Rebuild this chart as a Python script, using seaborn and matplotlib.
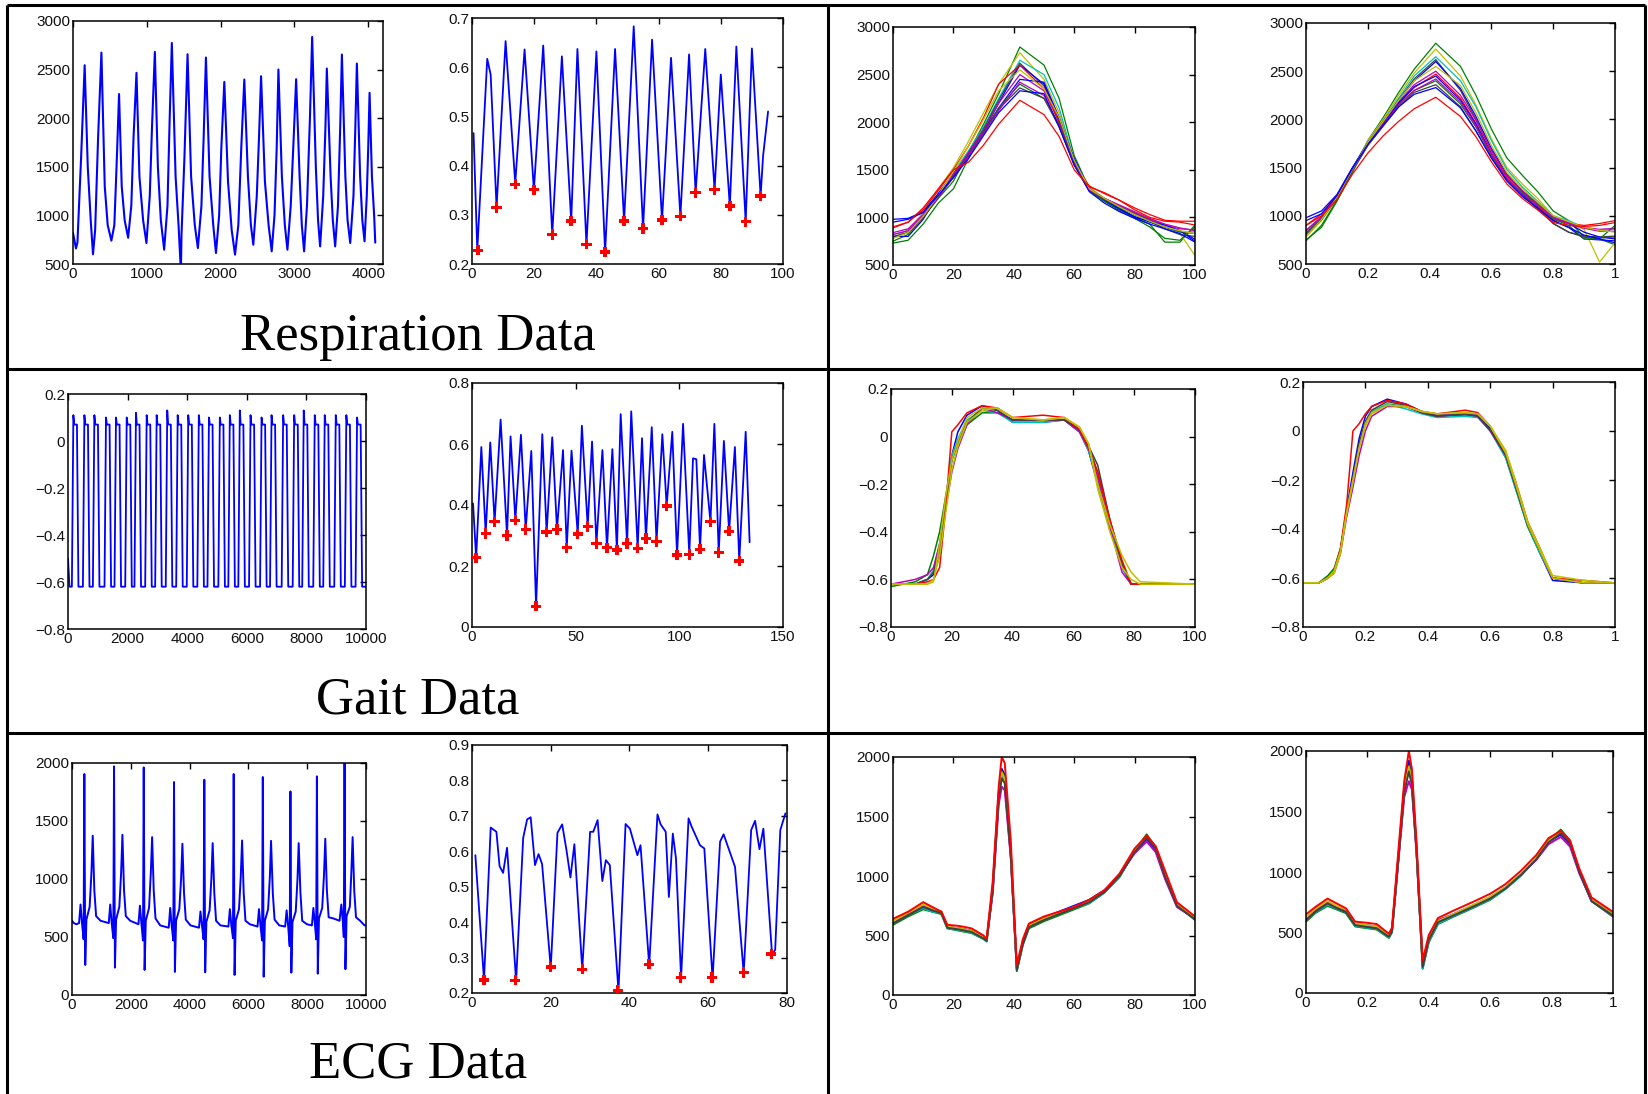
import matplotlib
matplotlib.use("Agg")
import matplotlib.pyplot as plt
from matplotlib.lines import Line2D
from matplotlib.ticker import FuncFormatter, MultipleLocator
import seaborn as sns
import pandas as pd

# ---------------- DATA ----------------
# MATLAB default colours
C_B, C_G, C_R = (0, 0, 1), (0, 0.5, 0), (1, 0, 0)
C_C, C_M, C_Y, C_K = (0, 0.75, 0.75), (0.75, 0, 0.75), (0.75, 0.75, 0), (0.25, 0.25, 0.25)

# Respiration raw signal (vertices)
resp_raw_x = [0, 40, 60, 110, 158, 200, 240, 271, 300, 340, 385, 430, 470, 520, 560, 590, 624, 660, 700, 747,
              790, 820, 860, 900, 950, 995, 1040, 1070, 1109, 1150, 1190, 1235, 1280, 1310, 1339, 1390, 1430, 1462,
              1470, 1510, 1552, 1600, 1650, 1692, 1740, 1770, 1801, 1850, 1900, 1937, 1980, 2010, 2050, 2100, 2150,
              2195, 2240, 2280, 2321, 2370, 2410, 2443, 2490, 2520, 2548, 2600, 2650, 2692, 2730, 2760, 2783, 2830,
              2870, 2905, 2950, 2990, 3023, 3070, 3100, 3131, 3170, 3210, 3240, 3290, 3320, 3348, 3390, 3420, 3439,
              3490, 3520, 3552, 3590, 3620, 3643, 3690, 3720, 3756, 3800, 3825, 3846, 3890, 3920, 3950, 3980, 4000,
              4018, 4050, 4080, 4095]
resp_raw_y = [820, 660, 720, 1600, 2545, 1500, 950, 600, 850, 1800, 2675, 1300, 900, 740, 900, 1500, 2248, 1300, 950, 770,
              1100, 1800, 2467, 1400, 950, 716, 1200, 1900, 2682, 1500, 950, 647, 1100, 2000, 2774, 1400, 900, 420,
              800, 1600, 2658, 1400, 900, 664, 1100, 1800, 2624, 1400, 900, 613, 1000, 1700, 2374, 1350, 850,
              596, 900, 1700, 2398, 1400, 900, 698, 1200, 1800, 2432, 1350, 900, 630, 1000, 1700, 2501, 1400,
              900, 647, 1100, 1800, 2401, 1400, 900, 630, 1100, 2000, 2836, 1500, 950, 681, 1200, 1900, 2511,
              1400, 950, 681, 1100, 1900, 2655, 1400, 950, 716, 1200, 1900, 2562, 1400, 950, 733, 1200, 1700,
              2261, 1400, 1000, 720]

# Respiration feature signal
resp_feat_x = [0.5, 1.7, 4.9, 6.0, 7.9, 10.8, 13.9, 16.9, 19.9, 22.9, 25.8, 28.9, 31.9, 33.9, 36.8, 40.0, 42.8, 46.0,
               48.9, 52.0, 55.0, 57.9, 61.1, 64.0, 67.0, 69.8, 71.9, 75.0, 78.0, 80.0, 82.9, 85.0, 88.0, 90.0, 92.8,
               93.6, 95.2]
resp_feat_y = [0.466, 0.228, 0.617, 0.585, 0.315, 0.653, 0.364, 0.636, 0.351, 0.644, 0.26, 0.622, 0.287, 0.637, 0.24,
               0.632, 0.224, 0.637, 0.287, 0.683, 0.272, 0.656, 0.289, 0.619, 0.297, 0.626, 0.345, 0.637, 0.351, 0.585,
               0.318, 0.642, 0.286, 0.638, 0.338, 0.42, 0.51]
resp_min_x = [1.9, 7.9, 13.9, 19.9, 25.8, 31.9, 36.8, 42.8, 48.9, 55.0, 61.1, 67.0, 71.9, 78.0, 82.9, 88.0, 92.8]
resp_min_y = [0.228, 0.315, 0.362, 0.351, 0.26, 0.287, 0.24, 0.224, 0.287, 0.272, 0.289, 0.297, 0.345, 0.351, 0.318, 0.286, 0.338]

# Respiration cycles (raw time, 0..100)
resp_cyc_x = [0, 5, 10, 15, 20, 25, 30, 35, 42, 50, 55, 60, 65, 70, 75, 80, 85, 90, 95, 100]
resp_cyc = [
    (C_G, [750, 820, 1000, 1200, 1380, 1680, 1980, 2300, 2790, 2600, 2250, 1650, 1300, 1180, 1100, 1000, 930, 740, 740, 920]),
    (C_Y, [780, 870, 1050, 1300, 1520, 1800, 2100, 2400, 2730, 2450, 2100, 1600, 1320, 1200, 1120, 1030, 960, 880, 830, 600]),
    (C_C, [820, 860, 1020, 1240, 1470, 1700, 1950, 2250, 2650, 2500, 2150, 1600, 1300, 1200, 1120, 1040, 970, 900, 840, 850]),
    (C_K, [790, 840, 1000, 1220, 1440, 1680, 1930, 2230, 2620, 2380, 2050, 1580, 1300, 1190, 1110, 1030, 960, 880, 820, 800]),
    (C_B, [980, 990, 1060, 1250, 1460, 1650, 1900, 2200, 2600, 2400, 2020, 1620, 1300, 1180, 1090, 1010, 950, 900, 860, 770]),
    (C_M, [840, 880, 1030, 1230, 1450, 1680, 1920, 2200, 2500, 2330, 2000, 1580, 1300, 1200, 1120, 1050, 980, 920, 880, 870]),
    (C_R, [890, 950, 1080, 1280, 1500, 1750, 2050, 2400, 2600, 2350, 2000, 1550, 1330, 1250, 1180, 1100, 1030, 970, 960, 960]),
    (C_B, [800, 800, 980, 1250, 1420, 1640, 1880, 2150, 2450, 2420, 2050, 1600, 1280, 1170, 1080, 1000, 960, 920, 860, 750]),
    (C_G, [730, 760, 930, 1150, 1300, 1620, 1900, 2150, 2400, 2250, 1950, 1550, 1280, 1170, 1070, 990, 900, 780, 760, 900]),
    (C_K, [800, 840, 1000, 1210, 1430, 1660, 1900, 2140, 2360, 2250, 1980, 1570, 1290, 1190, 1110, 1040, 970, 900, 850, 830]),
    (C_M, [820, 860, 1020, 1210, 1420, 1650, 1880, 2120, 2420, 2280, 1960, 1560, 1290, 1200, 1130, 1060, 990, 930, 890, 860]),
    (C_Y, [780, 840, 1010, 1230, 1480, 1750, 2030, 2330, 2550, 2350, 2050, 1600, 1300, 1200, 1110, 1030, 960, 900, 860, 830]),
    (C_B, [950, 980, 1050, 1230, 1420, 1620, 1860, 2100, 2330, 2300, 1950, 1550, 1270, 1150, 1060, 990, 930, 880, 830, 740]),
    (C_R, [900, 950, 1100, 1300, 1500, 1580, 1760, 1980, 2230, 2080, 1850, 1500, 1320, 1260, 1180, 1080, 1000, 960, 950, 920]),
]

# Respiration cycles (normalised time, 0..1)
resp_norm_x = [0, 0.05, 0.1, 0.15, 0.2, 0.25, 0.3, 0.35, 0.42, 0.5, 0.55, 0.6, 0.65, 0.7, 0.75, 0.8, 0.85, 0.9, 0.95, 1.0]
resp_norm = [
    (C_G, [750, 880, 1150, 1450, 1780, 2020, 2280, 2520, 2790, 2550, 2250, 1900, 1600, 1420, 1250, 1050, 950, 780, 760, 700]),
    (C_Y, [780, 950, 1180, 1480, 1780, 2000, 2250, 2480, 2730, 2450, 2150, 1800, 1500, 1330, 1180, 1000, 920, 860, 520, 720]),
    (C_C, [820, 980, 1200, 1490, 1760, 1980, 2220, 2450, 2650, 2400, 2130, 1780, 1480, 1300, 1150, 1000, 950, 880, 850, 860]),
    (C_K, [800, 960, 1180, 1470, 1750, 1960, 2200, 2420, 2620, 2300, 2000, 1680, 1420, 1250, 1100, 920, 830, 790, 780, 790]),
    (C_B, [980, 1050, 1220, 1500, 1760, 1980, 2200, 2400, 2600, 2320, 2030, 1700, 1430, 1260, 1120, 980, 920, 830, 780, 760]),
    (C_M, [850, 990, 1200, 1480, 1740, 1960, 2180, 2360, 2500, 2250, 1990, 1680, 1420, 1260, 1130, 990, 930, 880, 860, 870]),
    (C_R, [900, 1020, 1210, 1480, 1740, 1950, 2160, 2330, 2470, 2220, 1960, 1650, 1400, 1230, 1100, 960, 920, 900, 920, 950]),
    (C_B, [800, 960, 1200, 1490, 1750, 1950, 2170, 2340, 2450, 2200, 1950, 1640, 1380, 1220, 1080, 950, 880, 760, 750, 740]),
    (C_G, [740, 900, 1160, 1460, 1730, 1940, 2150, 2300, 2400, 2160, 1920, 1620, 1380, 1240, 1120, 970, 900, 760, 760, 900]),
    (C_K, [820, 970, 1190, 1470, 1730, 1930, 2130, 2280, 2360, 2130, 1880, 1600, 1370, 1210, 1070, 920, 830, 780, 770, 780]),
    (C_M, [840, 990, 1200, 1480, 1740, 1950, 2150, 2300, 2420, 2180, 1930, 1640, 1390, 1230, 1110, 980, 920, 870, 840, 840]),
    (C_Y, [790, 960, 1190, 1480, 1760, 1980, 2200, 2400, 2550, 2350, 2070, 1730, 1450, 1280, 1140, 1000, 940, 880, 850, 830]),
    (C_B, [950, 1020, 1210, 1490, 1740, 1940, 2130, 2260, 2330, 2120, 1880, 1600, 1360, 1200, 1080, 950, 880, 800, 760, 720]),
    (C_R, [900, 1000, 1170, 1430, 1650, 1830, 1980, 2110, 2230, 2030, 1820, 1560, 1330, 1180, 1060, 930, 900, 890, 900, 930]),
]

# Gait raw signal: per-cycle (rise start, peak x, peak y, high end x, fall end x)
gait_cycles = [
    (130, 180, 0.11, 300, 350), (500, 550, 0.11, 670, 720), (835, 885, 0.11, 1005, 1055),
    (1225, 1275, 0.10, 1395, 1445), (1560, 1610, 0.10, 1730, 1780), (1920, 1970, 0.10, 2090, 2140),
    (2230, 2280, 0.12, 2400, 2450), (2590, 2640, 0.11, 2760, 2810), (2925, 2975, 0.11, 3095, 3145),
    (3280, 3330, 0.13, 3450, 3500), (3630, 3680, 0.11, 3800, 3850), (3985, 4035, 0.11, 4155, 4205),
    (4340, 4390, 0.11, 4510, 4560), (4680, 4730, 0.10, 4850, 4900), (5045, 5095, 0.10, 5215, 5265),
    (5380, 5430, 0.11, 5550, 5600), (5715, 5765, 0.13, 5885, 5935), (6075, 6125, 0.11, 6245, 6295),
    (6445, 6495, 0.10, 6615, 6665), (6780, 6830, 0.11, 6950, 7000), (7170, 7220, 0.11, 7340, 7390),
    (7540, 7590, 0.11, 7710, 7760), (7860, 7910, 0.13, 8030, 8080), (8230, 8280, 0.11, 8400, 8450),
    (8565, 8615, 0.11, 8735, 8785), (8935, 8985, 0.11, 9105, 9155), (9290, 9340, 0.11, 9460, 9510),
    (9650, 9700, 0.10, 9820, 9870),
]
gait_low = -0.62
gait_high_end = 0.07

# Gait feature signal
gait_feat_x = [0.5, 2.0, 4.5, 6.6, 8.8, 10.9, 13.8, 16.9, 18.6, 20.9, 23.6, 25.9, 28.6, 30.9, 33.9, 36.0, 38.7, 41.0,
               43.9, 45.7, 48.0, 51.0, 53.0, 55.8, 57.9, 60.0, 62.9, 65.1, 67.7, 69.9, 71.7, 74.8, 76.8, 79.9, 82.0,
               83.9, 86.7, 89.0, 91.8, 93.9, 96.6, 98.9, 101.8, 104.8, 106.6, 108.2, 110.0, 111.9, 115.0, 116.9, 119.0,
               121.5, 124.0, 126.8, 128.9, 132.0, 133.9]
gait_feat_y = [0.405, 0.227, 0.59, 0.307, 0.605, 0.345, 0.68, 0.30, 0.625, 0.35, 0.63, 0.32, 0.577, 0.068, 0.632, 0.311,
               0.622, 0.32, 0.58, 0.26, 0.578, 0.305, 0.66, 0.33, 0.608, 0.274, 0.58, 0.26, 0.583, 0.252, 0.698, 0.274,
               0.707, 0.258, 0.619, 0.29, 0.655, 0.28, 0.632, 0.397, 0.64, 0.236, 0.666, 0.238, 0.553, 0.55, 0.255,
               0.564, 0.345, 0.666, 0.244, 0.61, 0.314, 0.59, 0.216, 0.64, 0.278]
gait_min_x = [2.0, 6.6, 10.9, 16.9, 20.9, 25.9, 30.9, 36.0, 41.0, 45.7, 51.0, 55.8, 60.0, 65.1, 69.9, 74.8, 79.9, 83.9,
              89.0, 93.9, 98.9, 104.8, 110.0, 115.0, 119.0, 124.0, 128.9]
gait_min_y = [0.227, 0.307, 0.345, 0.30, 0.35, 0.32, 0.068, 0.311, 0.32, 0.26, 0.305, 0.33, 0.274, 0.26, 0.252, 0.274,
              0.258, 0.29, 0.28, 0.397, 0.236, 0.238, 0.255, 0.345, 0.244, 0.314, 0.216]

# Gait cycles (raw time)
gait_cyc_x = [0, 8, 12, 14, 16, 18, 20, 22, 25, 30, 35, 40, 50, 57, 62, 65, 68, 72, 76, 79, 82, 100]
gait_cyc = [
    (C_B, [-0.62, -0.62, -0.60, -0.58, -0.50, -0.30, -0.08, 0.02, 0.09, 0.13, 0.11, 0.06, 0.06, 0.07, 0.02, -0.06, -0.20, -0.38, -0.55, -0.62, -0.62, -0.62]),
    (C_G, [-0.63, -0.61, -0.58, -0.50, -0.40, -0.25, -0.10, -0.03, 0.05, 0.10, 0.10, 0.07, 0.07, 0.07, 0.03, -0.04, -0.15, -0.35, -0.53, -0.62, -0.62, -0.62]),
    (C_C, [-0.62, -0.62, -0.60, -0.56, -0.45, -0.28, -0.08, -0.01, 0.07, 0.11, 0.10, 0.06, 0.06, 0.07, 0.02, -0.06, -0.18, -0.38, -0.55, -0.62, -0.62, -0.62]),
    (C_M, [-0.62, -0.60, -0.58, -0.55, -0.45, -0.30, -0.15, -0.05, 0.05, 0.12, 0.10, 0.07, 0.07, 0.07, 0.02, -0.05, -0.17, -0.38, -0.57, -0.62, -0.62, -0.62]),
    (C_K, [-0.62, -0.62, -0.60, -0.57, -0.47, -0.30, -0.10, -0.02, 0.06, 0.12, 0.11, 0.07, 0.07, 0.07, 0.03, -0.04, -0.12, -0.35, -0.54, -0.62, -0.62, -0.62]),
    (C_R, [-0.62, -0.62, -0.61, -0.60, -0.55, -0.30, 0.02, 0.05, 0.10, 0.13, 0.12, 0.08, 0.09, 0.08, 0.03, -0.05, -0.15, -0.35, -0.52, -0.62, -0.62, -0.62]),
    (C_Y, [-0.62, -0.62, -0.62, -0.61, -0.45, -0.25, -0.10, -0.02, 0.08, 0.12, 0.12, 0.08, 0.07, 0.08, 0.04, -0.03, -0.20, -0.37, -0.50, -0.57, -0.61, -0.62]),
    (C_Y, [-0.62, -0.62, -0.62, -0.60, -0.50, -0.32, -0.14, -0.04, 0.06, 0.11, 0.12, 0.08, 0.07, 0.08, 0.04, -0.03, -0.22, -0.40, -0.55, -0.60, -0.62, -0.62]),
]

# Gait cycles (normalised time)
gait_norm_x = [0, 0.05, 0.08, 0.1, 0.12, 0.14, 0.16, 0.18, 0.2, 0.22, 0.27, 0.33, 0.38, 0.43, 0.52, 0.56, 0.6, 0.65, 0.68, 0.72, 0.76, 0.8, 0.9, 1.0]
gait_norm = [
    (C_B, [-0.62, -0.62, -0.60, -0.57, -0.49, -0.32, -0.17, -0.03, 0.06, 0.10, 0.13, 0.11, 0.08, 0.065, 0.075, 0.065, 0.01, -0.10, -0.22, -0.385, -0.50, -0.61, -0.62, -0.62]),
    (C_G, [-0.62, -0.62, -0.59, -0.56, -0.48, -0.33, -0.20, -0.06, 0.03, 0.075, 0.11, 0.10, 0.075, 0.06, 0.065, 0.06, 0.005, -0.11, -0.23, -0.39, -0.50, -0.60, -0.62, -0.62]),
    (C_C, [-0.62, -0.62, -0.60, -0.57, -0.49, -0.33, -0.20, -0.06, 0.035, 0.08, 0.11, 0.09, 0.07, 0.055, 0.06, 0.055, 0.0, -0.11, -0.23, -0.39, -0.50, -0.60, -0.62, -0.62]),
    (C_M, [-0.62, -0.62, -0.60, -0.58, -0.50, -0.35, -0.23, -0.10, 0.0, 0.06, 0.10, 0.10, 0.075, 0.06, 0.07, 0.06, 0.0, -0.10, -0.22, -0.38, -0.49, -0.60, -0.62, -0.62]),
    (C_K, [-0.62, -0.62, -0.60, -0.57, -0.49, -0.33, -0.19, -0.05, 0.04, 0.085, 0.12, 0.105, 0.075, 0.06, 0.07, 0.06, 0.005, -0.10, -0.22, -0.385, -0.49, -0.60, -0.62, -0.62]),
    (C_R, [-0.62, -0.62, -0.60, -0.57, -0.48, -0.30, 0.0, 0.03, 0.07, 0.10, 0.125, 0.11, 0.08, 0.07, 0.085, 0.075, 0.02, -0.09, -0.20, -0.37, -0.48, -0.60, -0.61, -0.62]),
    (C_Y, [-0.62, -0.62, -0.60, -0.58, -0.50, -0.34, -0.21, -0.07, 0.03, 0.075, 0.105, 0.10, 0.08, 0.07, 0.075, 0.07, 0.02, -0.08, -0.20, -0.37, -0.48, -0.59, -0.61, -0.62]),
    (C_Y, [-0.62, -0.62, -0.60, -0.57, -0.49, -0.33, -0.20, -0.07, 0.02, 0.07, 0.105, 0.10, 0.08, 0.07, 0.075, 0.07, 0.02, -0.09, -0.21, -0.38, -0.49, -0.60, -0.62, -0.62]),
]

# ECG raw signal (vertices)
ecg_raw = [
    (0, 640), (60, 620), (150, 610), (240, 620), (290, 780), (340, 620), (395, 480), (420, 1905), (450, 259),
    (490, 650), (600, 760), (660, 1050), (705, 1373), (760, 900), (820, 680), (970, 640),
    (1250, 620), (1300, 780), (1350, 620), (1405, 490), (1430, 1971), (1460, 236), (1500, 650), (1610, 760),
    (1670, 1050), (1715, 1381), (1770, 900), (1830, 680), (1980, 640),
    (2260, 610), (2310, 770), (2360, 620), (2415, 470), (2440, 1962), (2470, 216), (2510, 640), (2620, 750),
    (2680, 1050), (2725, 1361), (2780, 900), (2840, 660), (3000, 600),
    (3290, 580), (3340, 750), (3390, 600), (3445, 470), (3470, 1836), (3500, 199), (3540, 640), (3650, 740),
    (3710, 1000), (3755, 1304), (3810, 880), (3870, 650), (4030, 600),
    (4320, 580), (4370, 720), (4420, 600), (4475, 480), (4500, 1856), (4530, 196), (4570, 630), (4680, 730),
    (4740, 1000), (4785, 1309), (4840, 880), (4900, 640), (5050, 600),
    (5320, 590), (5370, 740), (5420, 600), (5475, 490), (5500, 1905), (5530, 173), (5570, 640), (5680, 740),
    (5740, 1020), (5785, 1332), (5840, 880), (5900, 640), (6050, 610),
    (6310, 590), (6360, 740), (6410, 600), (6465, 470), (6490, 1879), (6520, 158), (6560, 640), (6670, 740),
    (6730, 1020), (6770, 1329), (6830, 880), (6890, 650), (7050, 600),
    (7250, 590), (7300, 730), (7350, 600), (7405, 420), (7430, 1755), (7460, 193), (7500, 630), (7610, 720),
    (7670, 1000), (7710, 1309), (7770, 880), (7830, 640), (7990, 610),
    (8160, 600), (8210, 750), (8260, 620), (8305, 480), (8330, 1885), (8360, 184), (8400, 660), (8510, 750),
    (8570, 1030), (8615, 1347), (8670, 900), (8730, 670), (8890, 660),
    (9100, 640), (9160, 780), (9210, 640), (9245, 500), (9270, 2000), (9300, 222), (9340, 680), (9450, 760),
    (9500, 1050), (9545, 1361), (9600, 900), (9660, 670), (9800, 640), (9950, 600), (10000, 600),
]

# ECG feature signal
ecg_feat_x = [0.85, 1.4, 3.05, 4.75, 6.2, 7.0, 7.9, 8.9, 11.2, 13.0, 14.0, 14.9, 16.0, 16.9, 17.8, 20.0, 21.7, 22.9,
              24.0, 25.0, 26.0, 28.0, 30.0, 30.8, 31.9, 33.1, 34.0, 35.0, 37.2, 39.0, 40.1, 42.0, 42.8, 45.0, 47.1,
              47.9, 49.2, 50.0, 51.0, 51.8, 53.1, 55.0, 55.8, 57.9, 59.0, 61.1, 63.0, 63.9, 66.8, 69.0, 70.9, 71.9,
              73.0, 74.0, 76.2, 77.0, 78.3, 79.6]
ecg_feat_y = [0.589, 0.5, 0.237, 0.667, 0.655, 0.558, 0.539, 0.61, 0.234, 0.638, 0.69, 0.696, 0.561, 0.592, 0.564,
              0.27, 0.652, 0.676, 0.603, 0.526, 0.62, 0.266, 0.655, 0.655, 0.688, 0.516, 0.575, 0.561, 0.205, 0.677,
              0.664, 0.589, 0.617, 0.278, 0.704, 0.676, 0.655, 0.471, 0.65, 0.58, 0.242, 0.693, 0.669, 0.617, 0.608,
              0.24, 0.627, 0.648, 0.556, 0.256, 0.66, 0.686, 0.606, 0.664, 0.309, 0.322, 0.66, 0.707]
ecg_min_x = [3.0, 11.0, 20.0, 28.0, 37.0, 45.0, 53.0, 61.0, 69.0, 76.0]
ecg_min_y = [0.237, 0.236, 0.273, 0.267, 0.207, 0.281, 0.244, 0.244, 0.258, 0.31]

# ECG beats (raw time)
ecg_cyc_x = [0, 5, 10, 13, 16, 18, 22, 26, 30, 31, 33, 35, 36, 37, 39, 41, 43, 45, 50, 55, 60, 65, 70, 75, 80, 84, 87, 90, 94, 100]
ecg_cyc = [
    (C_B, [620, 680, 740, 720, 700, 570, 560, 540, 490, 460, 900, 1700, 1900, 1850, 1200, 230, 450, 590, 650, 700, 750, 800, 880, 1000, 1200, 1310, 1220, 1000, 760, 650]),
    (C_G, [590, 660, 720, 700, 680, 560, 540, 520, 470, 450, 880, 1680, 1880, 1830, 1180, 200, 420, 560, 620, 670, 720, 770, 860, 990, 1210, 1350, 1240, 1010, 760, 630]),
    (C_C, [600, 670, 730, 700, 690, 560, 545, 525, 470, 450, 880, 1670, 1850, 1800, 1180, 210, 430, 570, 630, 680, 730, 775, 860, 995, 1205, 1330, 1235, 1005, 755, 640]),
    (C_M, [610, 680, 750, 720, 700, 570, 560, 540, 480, 460, 850, 1600, 1750, 1720, 1150, 220, 440, 580, 640, 690, 740, 790, 870, 1010, 1190, 1290, 1200, 980, 740, 640]),
    (C_Y, [620, 690, 760, 730, 700, 575, 560, 540, 485, 460, 890, 1690, 1870, 1820, 1190, 225, 445, 585, 645, 690, 740, 790, 875, 1010, 1220, 1330, 1240, 1010, 760, 650]),
    (C_K, [600, 670, 740, 710, 690, 565, 550, 530, 475, 455, 870, 1650, 1820, 1780, 1170, 210, 430, 570, 630, 680, 730, 780, 865, 1000, 1200, 1320, 1230, 1000, 750, 635]),
    (C_R, [640, 700, 780, 740, 700, 590, 580, 560, 500, 470, 950, 1750, 2000, 1950, 1300, 250, 470, 600, 660, 700, 740, 800, 880, 1020, 1230, 1340, 1250, 1050, 780, 660]),
]

# ECG beats (normalised time)
ecg_norm_x = [0, 0.03, 0.07, 0.1, 0.13, 0.16, 0.2, 0.23, 0.27, 0.28, 0.3, 0.32, 0.335, 0.345, 0.36, 0.38, 0.4, 0.43,
              0.48, 0.55, 0.6, 0.65, 0.7, 0.75, 0.79, 0.83, 0.86, 0.89, 0.93, 1.0]
ecg_norm = [
    (C_B, [620, 690, 750, 710, 680, 570, 560, 550, 475, 520, 1100, 1700, 1920, 1780, 1200, 240, 460, 600, 650, 730, 790, 870, 980, 1110, 1250, 1310, 1230, 1010, 770, 650]),
    (C_G, [590, 660, 720, 690, 660, 550, 535, 525, 455, 500, 1080, 1680, 1880, 1750, 1180, 200, 420, 570, 630, 710, 770, 860, 970, 1110, 1260, 1350, 1260, 1010, 760, 630]),
    (C_C, [600, 665, 730, 695, 670, 555, 540, 530, 460, 505, 1085, 1670, 1850, 1740, 1175, 205, 430, 575, 635, 715, 775, 860, 970, 1105, 1250, 1335, 1250, 1005, 760, 635]),
    (C_M, [610, 680, 750, 710, 680, 565, 555, 545, 470, 515, 1060, 1620, 1750, 1680, 1150, 230, 450, 600, 650, 730, 790, 870, 980, 1100, 1230, 1290, 1210, 990, 760, 640]),
    (C_Y, [625, 695, 760, 720, 690, 575, 560, 550, 475, 525, 1100, 1690, 1870, 1760, 1190, 235, 455, 595, 650, 735, 795, 875, 985, 1115, 1255, 1330, 1250, 1015, 770, 650]),
    (C_K, [600, 670, 740, 700, 670, 560, 545, 535, 465, 510, 1080, 1660, 1830, 1720, 1170, 215, 440, 585, 640, 720, 780, 865, 975, 1105, 1245, 1320, 1240, 1000, 760, 640]),
    (C_R, [650, 710, 780, 740, 700, 590, 580, 570, 490, 540, 1150, 1750, 2000, 1850, 1250, 270, 480, 620, 680, 760, 820, 900, 1010, 1140, 1280, 1340, 1260, 1030, 790, 670]),
]

titles = ["Respiration Data", "Gait Data", "ECG Data"]

# ---------------- PLOT ----------------
sns.set_style("white")
plt.rcParams["font.family"] = ["Liberation Sans", "DejaVu Sans"]
plt.rcParams["axes.unicode_minus"] = True

W, H = 1649, 1094
fig = plt.figure(figsize=(W / 100, H / 100), dpi=100)
fig.patch.set_facecolor("white")


def px_axes(l, t, r, b):
    return fig.add_axes([l / W, 1 - b / H, (r - l) / W, (b - t) / H])


def fmt(v, pos):
    s = "%g" % round(v, 6)
    return s.replace("-", "\u2212")


def style(ax, xlim, ylim, xstep, ystep):
    ax.set_xlim(*xlim)
    ax.set_ylim(*ylim)
    ax.xaxis.set_major_locator(MultipleLocator(xstep))
    ax.yaxis.set_major_locator(MultipleLocator(ystep))
    ax.xaxis.set_major_formatter(FuncFormatter(fmt))
    ax.yaxis.set_major_formatter(FuncFormatter(fmt))
    ax.tick_params(direction="in", length=4, width=1.0, top=True, right=True,
                   labelsize=11, pad=2, colors="black", labelcolor="#111111")
    for sp in ax.spines.values():
        sp.set_visible(True)
        sp.set_color("black")
        sp.set_linewidth(1.1)
    ax.set_xlabel("")
    ax.set_ylabel("")
    ax.set_facecolor("white")


def raw_line(ax, xs, ys, lw=1.5):
    sns.lineplot(x=xs, y=ys, ax=ax, color=C_B, lw=lw, sort=False, estimator=None)


def overlay(ax, xs, curves, lw=0.9):
    rows = []
    for i, (col, ys) in enumerate(curves):
        for x, y in zip(xs, ys):
            rows.append({"x": x, "y": y, "c": i})
    df = pd.DataFrame(rows)
    pal = {i: col for i, (col, _) in enumerate(curves)}
    sns.lineplot(data=df, x="x", y="y", hue="c", palette=pal, ax=ax, lw=lw,
                 sort=False, estimator=None, legend=False)


def markers(ax, xs, ys):
    sns.scatterplot(x=xs, y=ys, ax=ax, color=C_R, marker="P", s=55, edgecolor="none", zorder=5)


# Row 1: respiration
ax = px_axes(73, 21, 383, 264)
raw_line(ax, resp_raw_x, resp_raw_y)
style(ax, (0, 4200), (500, 3000), 1000, 500)

ax = px_axes(472, 18, 783, 264)
raw_line(ax, resp_feat_x, resp_feat_y, lw=1.3)
markers(ax, resp_min_x, resp_min_y)
style(ax, (0, 100), (0.2, 0.7), 20, 0.1)

ax = px_axes(893, 27, 1195, 265)
overlay(ax, resp_cyc_x, resp_cyc)
style(ax, (0, 100), (500, 3000), 20, 500)

ax = px_axes(1306, 23, 1615, 264)
overlay(ax, resp_norm_x, resp_norm)
style(ax, (0, 1), (500, 3000), 0.2, 500)

# Row 2: gait
gx, gy = [0, 50], [-0.5, gait_low]
for rs, pxp, pyv, he, fe in gait_cycles:
    gx += [rs, pxp, pxp + 30, he, fe]
    gy += [gait_low, pyv, gait_high_end, gait_high_end, gait_low]
gx.append(10000)
gy.append(gait_low)
ax = px_axes(68, 394, 366, 629)
raw_line(ax, gx, gy, lw=1.3)
style(ax, (0, 10000), (-0.8, 0.2), 2000, 0.2)

ax = px_axes(472, 383, 783, 627)
raw_line(ax, gait_feat_x, gait_feat_y, lw=1.3)
markers(ax, gait_min_x, gait_min_y)
style(ax, (0, 150), (0, 0.8), 50, 0.2)

ax = px_axes(891, 389, 1195, 627)
overlay(ax, gait_cyc_x, gait_cyc, lw=1.1)
style(ax, (0, 100), (-0.8, 0.2), 20, 0.2)

ax = px_axes(1303, 382, 1615, 627)
overlay(ax, gait_norm_x, gait_norm, lw=1.1)
style(ax, (0, 1), (-0.8, 0.2), 0.2, 0.2)

# Row 3: ECG
ax = px_axes(72, 763, 366, 995)
raw_line(ax, [p[0] for p in ecg_raw], [p[1] for p in ecg_raw], lw=1.4)
style(ax, (0, 10000), (0, 2000), 2000, 500)

ax = px_axes(472, 745, 787, 993)
raw_line(ax, ecg_feat_x, ecg_feat_y, lw=1.3)
markers(ax, ecg_min_x, ecg_min_y)
style(ax, (0, 80), (0.2, 0.9), 20, 0.1)

ax = px_axes(893, 757, 1195, 995)
overlay(ax, ecg_cyc_x, ecg_cyc, lw=1.4)
style(ax, (0, 100), (0, 2000), 20, 500)

ax = px_axes(1306, 751, 1613, 993)
overlay(ax, ecg_norm_x, ecg_norm, lw=1.4)
style(ax, (0, 1), (0, 2000), 0.2, 500)

# Titles
for t, yb in zip(titles, [350, 713, 1078]):
    fig.text(418 / W, 1 - yb / H, t, ha="center", va="baseline", fontsize=38,
             family=["Liberation Serif", "DejaVu Serif"], color="black")

# Frame lines
def fline(x1, y1, x2, y2):
    fig.add_artist(Line2D([x1 / W, x2 / W], [1 - y1 / H, 1 - y2 / H], transform=fig.transFigure,
                          color="black", lw=2.2, solid_capstyle="butt"))

fline(7, 5, 1645, 5)
fline(7, 5, 7, H)
fline(1645, 5, 1645, H)
fline(828, 5, 828, H)
fline(7, 369, 1645, 369)
fline(7, 733, 1645, 733)

fig.savefig("out.png", dpi=100, facecolor="white")
